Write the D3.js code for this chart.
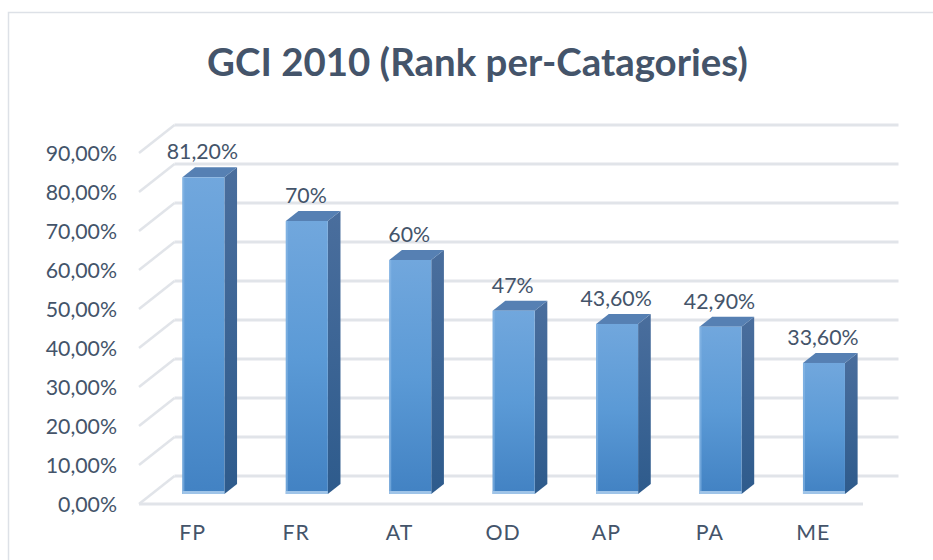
<!DOCTYPE html>
<html>
<head>
<meta charset="utf-8">
<script src="https://cdn.jsdelivr.net/npm/d3@7"></script>
<style>
  html, body { margin: 0; padding: 0; background: #ffffff; }
  svg { display: block; }
</style>
</head>
<body>
<svg id="chart" width="933" height="560"></svg>
<script>
// ---- data ----
const categories = ["FP", "FR", "AT", "OD", "AP", "PA", "ME"];
const values = [81.2, 70, 60, 47, 43.6, 42.9, 33.6];
const valueLabels = ["81,20%", "70%", "60%", "47%", "43,60%", "42,90%", "33,60%"];
const yTicks = [0, 10, 20, 30, 40, 50, 60, 70, 80, 90];
const title = "GCI 2010 (Rank per-Catagories)";

// ---- layout ----
const W = 933, H = 560;
const svg = d3.select("#chart");
const textColor = "#44546a";
const gridColor = "#e1e4e9";
const font = "Lato, 'Open Sans', 'Liberation Sans', sans-serif";
const labelSize = 21.3;

const x = d3.scaleBand().domain(categories).range([139, 863]).padding(0);
const y = d3.scaleLinear().domain([0, 90]).range([504, 153]);
const DX = 35.5, DY = 28;           // full depth offset
const z0 = 0.357, z1 = 0.714;       // bar depth span
const barFrac = 0.406;

const locale = d3.formatLocale({decimal: ",", thousands: ".", grouping: [3], currency: ["", "€"]});
const fmt = v => locale.format(".2f")(v) + "%";

// border
svg.append("rect").attr("x", 8.5).attr("y", 12.5).attr("width", W).attr("height", H)
  .attr("fill", "none").attr("stroke", "#dde1e7").attr("stroke-width", 1.5);

// defs: gradients
const defs = svg.append("defs");
const gFront = defs.append("linearGradient").attr("id", "gFront").attr("x1", 0).attr("y1", 0).attr("x2", 0).attr("y2", 1);
gFront.append("stop").attr("offset", "0%").attr("stop-color", "#71a7dd");
gFront.append("stop").attr("offset", "50%").attr("stop-color", "#5b9ad6");
gFront.append("stop").attr("offset", "100%").attr("stop-color", "#4282c3");
const gSide = defs.append("linearGradient").attr("id", "gSide").attr("x1", 0).attr("y1", 0).attr("x2", 0).attr("y2", 1);
gSide.append("stop").attr("offset", "0%").attr("stop-color", "#4a6e9d");
gSide.append("stop").attr("offset", "100%").attr("stop-color", "#2e5b8c");

// back wall gridlines
const x0 = x.range()[0], xEnd = x.range()[1];
const grid = svg.append("g");
grid.selectAll("line.back").data(yTicks).enter().append("line")
  .attr("x1", x0 + DX).attr("x2", xEnd + DX)
  .attr("y1", d => y(d) - DY).attr("y2", d => y(d) - DY)
  .attr("stroke", gridColor).attr("stroke-width", 3);
// side wall diagonals
grid.selectAll("line.side").data(yTicks).enter().append("line")
  .attr("x1", x0).attr("y1", d => y(d))
  .attr("x2", x0 + DX).attr("y2", d => y(d) - DY)
  .attr("stroke", gridColor).attr("stroke-width", 2.5);
// front floor edge
grid.append("line").attr("x1", x0).attr("x2", xEnd).attr("y1", y(0)).attr("y2", y(0))
  .attr("stroke", gridColor).attr("stroke-width", 3);

// bars
const bars = svg.append("g").selectAll("g").data(categories).enter().append("g");
const geom = (c, i) => {
  const cx = x(c) + x.bandwidth() / 2;
  const bw = x.step() * barFrac;
  const l = cx - bw / 2 + z0 * DX, r = cx + bw / 2 + z0 * DX;
  const t = y(values[i]) - z0 * DY, b = y(0) - z0 * DY;
  const ddx = (z1 - z0) * DX, ddy = (z1 - z0) * DY;
  return {cx, l, r, t, b, ddx, ddy};
};
bars.append("path").attr("fill", "url(#gSide)")
  .attr("d", (c, i) => { const g = geom(c, i);
    return `M${g.r},${g.t}L${g.r + g.ddx},${g.t - g.ddy}L${g.r + g.ddx},${g.b - g.ddy}L${g.r},${g.b}Z`; });
bars.append("path").attr("fill", "#5680b3")
  .attr("d", (c, i) => { const g = geom(c, i);
    return `M${g.l},${g.t}L${g.r},${g.t}L${g.r + g.ddx},${g.t - g.ddy}L${g.l + g.ddx},${g.t - g.ddy}Z`; });
bars.append("rect").attr("fill", "url(#gFront)")
  .attr("x", (c, i) => geom(c, i).l).attr("y", (c, i) => geom(c, i).t)
  .attr("width", (c, i) => geom(c, i).r - geom(c, i).l)
  .attr("height", (c, i) => geom(c, i).b - geom(c, i).t);
// left highlight
bars.append("rect").attr("fill", "#8ab9e6").attr("opacity", 0.6)
  .attr("x", (c, i) => geom(c, i).l).attr("y", (c, i) => geom(c, i).t)
  .attr("width", 2)
  .attr("height", (c, i) => geom(c, i).b - geom(c, i).t);
// bottom highlight
bars.append("rect").attr("fill", "#9fc4e8")
  .attr("x", (c, i) => geom(c, i).l).attr("y", (c, i) => geom(c, i).b - 3)
  .attr("width", (c, i) => geom(c, i).r - geom(c, i).l).attr("height", 3);

// value labels
svg.append("g").selectAll("text").data(categories).enter().append("text")
  .attr("x", (c, i) => geom(c, i).cx + z0 * DX - 1)
  .attr("y", (c, i) => y(values[i]) - z1 * DY - 8)
  .attr("text-anchor", "middle")
  .attr("font-family", font).attr("font-size", labelSize).attr("fill", textColor)
  .text((c, i) => valueLabels[i]);

// y-axis labels
svg.append("g").selectAll("text").data(yTicks).enter().append("text")
  .attr("x", 117).attr("y", d => y(d)).attr("dy", "0.36em")
  .attr("text-anchor", "end")
  .attr("font-family", font).attr("font-size", labelSize).attr("fill", textColor)
  .text(d => fmt(d));

// category labels
svg.append("g").selectAll("text").data(categories).enter().append("text")
  .attr("x", c => x(c) + x.bandwidth() / 2 + 2).attr("y", 540)
  .attr("text-anchor", "middle")
  .attr("font-family", font).attr("font-size", labelSize).attr("fill", textColor)
  .attr("letter-spacing", 1)
  .text(c => c);

// title
const tt = svg.append("text").attr("x", 477.5).attr("y", 76)
  .attr("text-anchor", "middle").attr("font-family", font).attr("font-weight", "bold")
  .attr("font-size", 34).attr("fill", textColor).text(title);
const tw = tt.node().getComputedTextLength();
if (tw > 0) tt.attr("font-size", 34 * 541 / tw);
</script>
</body>
</html>
